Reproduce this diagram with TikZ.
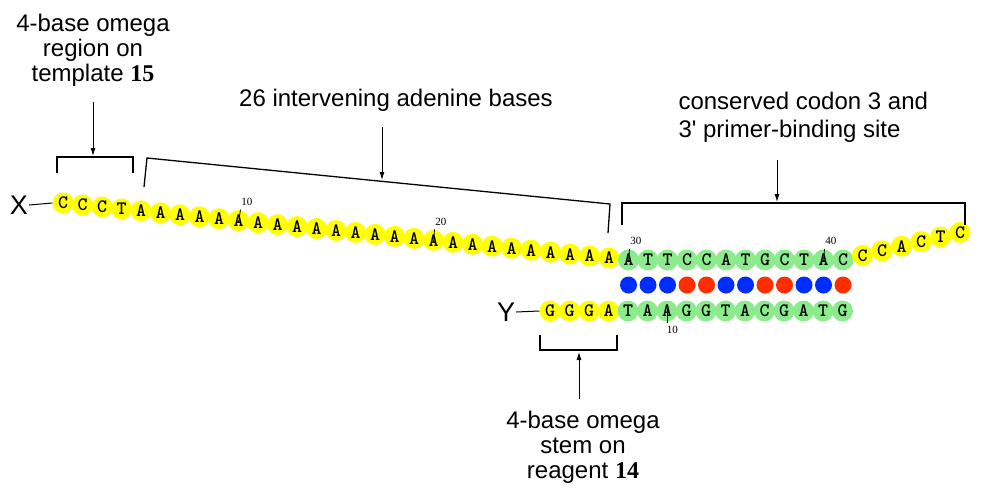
\documentclass[tikz,border=0pt]{standalone}
\usepackage{fontspec}
\newfontfamily\labelfont{Liberation Sans}
\newfontfamily\numfont{Liberation Serif}
\usetikzlibrary{arrows.meta}
\definecolor{beadyellow}{RGB}{255,255,0}
\definecolor{beadgreen}{RGB}{140,235,140}
\definecolor{pairblue}{RGB}{0,45,255}
\definecolor{pairred}{RGB}{255,45,0}
\newcommand\beadsize{\fontsize{19}{19}\selectfont}
\begin{document}
\begin{tikzpicture}[x=1pt,y=-1pt,
    bead/.style={circle,fill=#1,minimum size=21pt,inner sep=0pt,font=\ttfamily\bfseries\beadsize},
    pair/.style={circle,fill=#1,minimum size=17pt,inner sep=0pt},
    lbl/.style={align=center,font=\labelfont\fontsize{24}{25}\selectfont},
    num/.style={font=\numfont\fontsize{11}{11}\selectfont,inner sep=0.5pt},
    tick/.style={line width=0.8pt},
    pointer/.style={-{Latex[length=8pt,width=5pt]},line width=0.9pt},
    brace/.style={line width=1.3pt}]
    \useasboundingbox (0,0) rectangle (996,501);
    % template strand
    \foreach \b [count=\i] in {C,C,C,T,A,A,A,A,A,A,A,A,A,A,A,A,A,A,A,A,A,A,A,A,A,A,A,A,A,A,
        T,T,C,C,A,T,G,C,T,A,C,C,C,A,C,T,C}{
        \pgfmathsetmacro\px{63+19.5*(\i-1)}
        \pgfmathsetmacro\py{\i<31 ? 203+57*(\i-1)/29 : (\i<42 ? 260 : 260-4.6*(\i-41))}
        \ifnum\i<30 \def\col{beadyellow}\else\ifnum\i<42 \def\col{beadgreen}\else\def\col{beadyellow}\fi\fi
        \node[bead=\col] (t\i) at (\px,\py) {\b};
    }
    % base pairs
    \foreach \c [count=\k] in {pairblue,pairblue,pairblue,pairred,pairred,pairblue,
        pairblue,pairred,pairred,pairblue,pairblue,pairred}
        \node[pair=\c] (p\k) at (628.5+19.5*\k-19.5,285) {};
    % reagent strand
    \foreach \b [count=\j] in {G,G,G,A,T,A,A,G,G,T,A,C,G,A,T,G}{
        \ifnum\j<5 \def\col{beadyellow}\else\def\col{beadgreen}\fi
        \node[bead=\col] (b\j) at (550+19.5*\j-19.5,311) {\b};
    }
    \node[lbl,inner sep=1pt,font=\labelfont\fontsize{27}{27}\selectfont] (xend) at (19,205) {X};
    \draw[line width=1pt] (xend.east) -- (t1.west);
    \node[lbl,inner sep=1pt,font=\labelfont\fontsize{27}{27}\selectfont] (yend) at (506,312) {Y};
    \draw[line width=1pt] (yend.east) -- (b1.west);
    % numbering
    \draw[tick] ([yshift=-2pt]t10.center) -- ([xshift=2pt,yshift=11pt]t10.center) node[num,anchor=south west,yshift=3pt] (n10) {10};
    \draw[tick] ([yshift=-2pt]t20.center) -- ([xshift=1pt,yshift=11pt]t20.center) node[num,anchor=south west,yshift=3pt] (n20) {20};
    \draw[tick] ([yshift=-2pt]t30.center) -- ([xshift=1pt,yshift=11pt]t30.center) node[num,anchor=south west,yshift=3pt] (n30) {30};
    \draw[tick] ([yshift=-2pt]t40.center) -- ([xshift=1pt,yshift=11pt]t40.center) node[num,anchor=south west,yshift=3pt] (n40) {40};
    \draw[tick] ([yshift=2pt]b7.center) -- ([yshift=-12pt]b7.center) node[num,anchor=north west,xshift=-1pt,yshift=-2pt] (m10) {10};
    % brackets
    \draw[brace] (57,173) -- (57,157) -- (133,157) -- (133,173);
    \draw[brace] (144,187) -- (147,158) -- (610,204) -- (608,233);
    \draw[brace] (622,225) -- (622,203) -- (965,203) -- (965,225);
    \draw[brace] (540,335) -- (540,350) -- (617,350) -- (617,335);
    \coordinate (regionbr) at (93,156);
    \coordinate (adeninebr) at (382,180);
    \coordinate (codonbr) at (777,202);
    \coordinate (stembr) at (579,352);
    % labels
    \node[lbl] (regionlbl) at (93,50) {4-base omega\\region on\\template {\numfont\bfseries 15}};
    \node[lbl] (adeninelbl) at (396,100) {26 intervening adenine bases};
    \node[lbl,align=left,anchor=west,font=\labelfont\fontsize{24}{28}\selectfont] (codonlbl) at (675,117) {conserved codon 3 and\\3' primer-binding site};
    \node[lbl] (stemlbl) at (583,447) {4-base omega\\stem on\\reagent {\numfont\bfseries 14}};
    \draw[pointer,shorten <=12pt] (regionlbl.south -| regionbr) -- (regionbr);
    \draw[pointer,shorten <=12pt] (adeninelbl.south -| adeninebr) -- (adeninebr);
    \draw[pointer,shorten <=14pt] (codonlbl.south -| codonbr) -- (codonbr);
    \draw[pointer,shorten <=8pt] (stemlbl.north -| stembr) -- (stembr);
\end{tikzpicture}
\end{document}
